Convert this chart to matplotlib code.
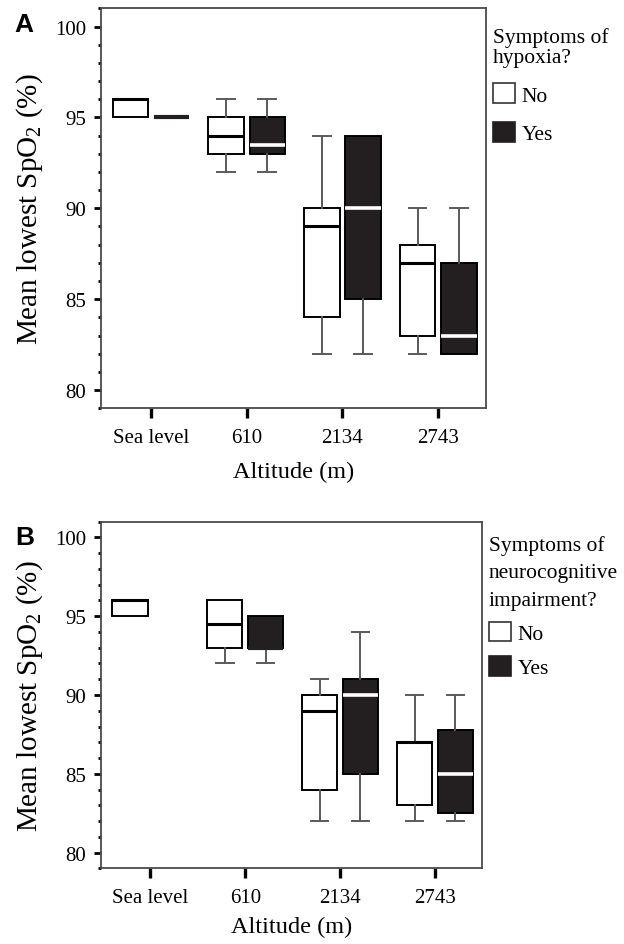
import matplotlib
matplotlib.use("Agg")
import matplotlib.pyplot as plt
from matplotlib.patches import Patch

plt.rcParams["font.family"] = ["Liberation Serif", "DejaVu Serif"]
plt.rcParams["mathtext.fontset"] = "custom"
plt.rcParams["mathtext.rm"] = "Liberation Serif"
plt.rcParams["mathtext.default"] = "rm"

altitudes = ["Sea level", "610", "2134", "2743"]

# Panel A: symptoms of hypoxia
a_no_whislo = [95, 92, 82, 82]
a_no_q1 = [95, 93, 84, 83]
a_no_med = [96, 94, 89, 87]
a_no_q3 = [96, 95, 90, 88]
a_no_whishi = [96, 96, 94, 90]

a_yes_whislo = [95, 92, 82, 82]
a_yes_q1 = [95, 93, 85, 82]
a_yes_med = [95, 93.5, 90, 83]
a_yes_q3 = [95, 95, 94, 87]
a_yes_whishi = [95, 96, 94, 90]

# Panel B: symptoms of neurocognitive impairment (no "Yes" group at sea level)
b_no_whislo = [95, 92, 82, 82]
b_no_q1 = [95, 93, 84, 83]
b_no_med = [96, 94.5, 89, 87]
b_no_q3 = [96, 96, 90, 87]
b_no_whishi = [96, 96, 91, 90]

b_yes_groups = [1, 2, 3]
b_yes_whislo = [92, 82, 82]
b_yes_q1 = [93, 85, 82.5]
b_yes_med = [93, 90, 85]
b_yes_q3 = [95, 91, 87.8]
b_yes_whishi = [95, 94, 90]

DARK = "#231f20"
WHISK = "#5a5a5a"
OFFSET = 0.215
WIDTH = 0.37


def make_stats(lo, q1, med, q3, hi):
    return [dict(whislo=a, q1=b, med=c, q3=d, whishi=e, fliers=[])
            for a, b, c, d, e in zip(lo, q1, med, q3, hi)]


def draw_group(ax, positions, stats, filled):
    face = DARK if filled else "white"
    res = ax.bxp(stats, positions=positions, widths=WIDTH, patch_artist=True,
                 showfliers=False,
                 boxprops=dict(facecolor=face, edgecolor="black", linewidth=1.4),
                 whiskerprops=dict(color=WHISK, linewidth=1.4),
                 capprops=dict(color=WHISK, linewidth=1.4),
                 capwidths=WIDTH * 0.5,
                 medianprops=dict(color="white" if filled else "black",
                                  linewidth=2.6 if filled else 2.2,
                                  solid_capstyle="butt"),
                 manage_ticks=False)
    for st, line in zip(stats, res["medians"]):
        if filled and (st["med"] == st["q1"] or st["med"] == st["q3"]):
            line.set_color(DARK)
            line.set_linewidth(3.0)
    # hide whiskers/caps that collapse onto the box edge
    for i, st in enumerate(stats):
        if st["whislo"] == st["q1"]:
            res["whiskers"][2 * i].set_visible(False)
            res["caps"][2 * i].set_visible(False)
        if st["whishi"] == st["q3"]:
            res["whiskers"][2 * i + 1].set_visible(False)
            res["caps"][2 * i + 1].set_visible(False)
    return res


def style_axes(ax, letter, legend_title, labelspacing, title_linespacing,
               xlabelpad, legend_y):
    ax.set_xlim(-0.52, 3.5)
    ax.set_ylim(79, 101)
    ax.set_xticks(range(len(altitudes)))
    ax.set_xticklabels(altitudes, fontsize=15)
    ax.set_yticks([80, 85, 90, 95, 100])
    ax.set_yticks(range(79, 102), minor=True)
    ax.tick_params(axis="y", which="major", direction="out", length=5, width=2,
                   labelsize=15, pad=6, color="black")
    ax.tick_params(axis="y", which="minor", direction="out", length=2, width=2,
                   color="black")
    ax.tick_params(axis="x", which="major", direction="out", length=7, width=2.4,
                   labelsize=15, pad=7, color="black")
    for s in ax.spines.values():
        s.set_color("#4a4a4a")
        s.set_linewidth(1.3)
    ax.set_xlabel("Altitude (m)", fontsize=17.5, labelpad=xlabelpad)
    ax.set_ylabel(r"Mean lowest SpO$_2$ (%)", fontsize=21, labelpad=7)
    ax.text(-0.225, 0.99, letter, transform=ax.transAxes, fontsize=19,
            fontweight="bold", family="Liberation Sans", va="top", ha="left")
    handles = [Patch(facecolor="white", edgecolor="#333333", linewidth=1.2),
               Patch(facecolor=DARK, edgecolor=DARK, linewidth=1.2)]
    leg = ax.legend(handles, ["No", "Yes"], title=legend_title,
                    loc="upper left", bbox_to_anchor=(1.0, legend_y),
                    frameon=False, fontsize=15.5, title_fontsize=15.5,
                    handlelength=1.05, handleheight=1.05, handletextpad=0.3,
                    labelspacing=labelspacing, borderaxespad=0.2,
                    borderpad=0.1, alignment="left")
    leg.get_title().set_linespacing(title_linespacing)
    leg._legend_box.align = "left"


fig = plt.figure(figsize=(6.24, 9.45), dpi=100)
ax_a = fig.add_axes([0.162, 0.567, 0.617, 0.423])
ax_b = fig.add_axes([0.162, 0.080, 0.611, 0.367])

groups = list(range(len(altitudes)))

draw_group(ax_a, [g - OFFSET for g in groups],
           make_stats(a_no_whislo, a_no_q1, a_no_med, a_no_q3, a_no_whishi), False)
draw_group(ax_a, [g + OFFSET for g in groups],
           make_stats(a_yes_whislo, a_yes_q1, a_yes_med, a_yes_q3, a_yes_whishi), True)
style_axes(ax_a, "A", "Symptoms of\nhypoxia?", 0.75, 1.1, 10, 0.97)

draw_group(ax_b, [g - OFFSET for g in groups],
           make_stats(b_no_whislo, b_no_q1, b_no_med, b_no_q3, b_no_whishi), False)
draw_group(ax_b, [g + OFFSET for g in b_yes_groups],
           make_stats(b_yes_whislo, b_yes_q1, b_yes_med, b_yes_q3, b_yes_whishi), True)
style_axes(ax_b, "B", "Symptoms of\nneurocognitive\nimpairment?", 0.55, 1.6, 6.5,
           0.98)

fig.savefig("out.png", dpi=100, facecolor="white")
